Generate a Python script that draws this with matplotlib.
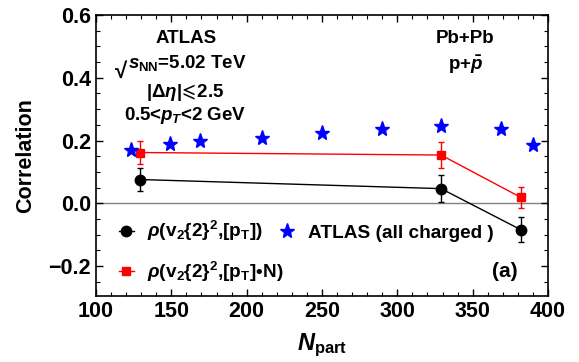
import matplotlib
matplotlib.use("Agg")
import matplotlib.pyplot as plt
import numpy as np
from matplotlib.ticker import MultipleLocator
from matplotlib.lines import Line2D

# ATLAS (all charged)
atlas_x = [123, 149, 169, 210, 250, 290, 329, 369, 390]
atlas_y = [0.171, 0.188, 0.198, 0.208, 0.225, 0.237, 0.248, 0.237, 0.187]

# rho(v2{2}^2,[pT])
rho_x = [129, 329, 382]
rho_y = [0.076, 0.047, -0.084]
rho_err = [0.037, 0.042, 0.040]

# rho(v2{2}^2,[pT]*N)
rhoN_x = [129, 329, 382]
rhoN_y = [0.162, 0.154, 0.019]
rhoN_err = [0.038, 0.040, 0.034]

plt.rcParams['font.family'] = ['Liberation Sans', 'DejaVu Sans']
plt.rcParams['font.weight'] = 'bold'
plt.rcParams['mathtext.fontset'] = 'custom'
plt.rcParams['mathtext.rm'] = 'Liberation Sans:bold'
plt.rcParams['mathtext.it'] = 'Liberation Sans:bold:italic'
plt.rcParams['mathtext.bf'] = 'Liberation Sans:bold'
plt.rcParams['mathtext.fallback'] = 'stixsans'

fig = plt.figure(figsize=(5.79, 3.62), dpi=100)
ax = fig.add_axes([0.1658, 0.1823, 0.7807, 0.7763])

ax.axhline(0, color='gray', lw=1, zorder=1)

ax.errorbar(rho_x, rho_y, yerr=rho_err, fmt='-o', color='black', ms=7.5, lw=1,
            capsize=2, elinewidth=1, zorder=3)
ax.errorbar(rhoN_x, rhoN_y, yerr=rhoN_err, fmt='-s', color='red', ms=5.5, lw=1,
            capsize=2, elinewidth=1, zorder=3)
ax.plot(atlas_x, atlas_y, '*', color='blue', ms=11, ls='none', zorder=4)

ax.set_xlim(100, 400)
ax.set_ylim(-0.295, 0.6)
ax.xaxis.set_major_locator(MultipleLocator(50))
ax.xaxis.set_minor_locator(MultipleLocator(10))
ax.yaxis.set_major_locator(MultipleLocator(0.2))
ax.yaxis.set_minor_locator(MultipleLocator(0.05))
ax.tick_params(which='both', direction='in', top=True, right=True, labelsize=15.5)
ax.tick_params(which='major', length=5, width=1)
ax.tick_params(which='minor', length=3, width=0.8)
ax.set_yticks([-0.2, 0.0, 0.2, 0.4, 0.6])
ax.set_yticklabels(["\u22120.2", "0.0", "0.2", "0.4", "0.6"])
for s in ax.spines.values():
    s.set_linewidth(1.2)

ax.set_ylabel("Correlation", fontsize=15.5, fontweight='bold', labelpad=9)
ax.set_xlabel(r"$N_{\rm part}$", fontsize=17, labelpad=7)

fs = 13.5
ax.text(160, 0.524, "ATLAS", ha='center', va='center', fontsize=fs)
ax.text(121, 0.446, r"$s_{\rm NN}$=5.02 TeV", ha='left', va='center', fontsize=fs)
ax.text(121, 0.418, "\u221a", ha='right', va='center', fontsize=16)
ax.text(159, 0.352, r"|Δ$\eta$|$\!\leqslant\!$2.5", ha='center', va='center', fontsize=fs)
ax.text(159, 0.28, r"0.5<$p_T$<2 GeV", ha='center', va='center', fontsize=fs)
ax.text(345, 0.524, "Pb+Pb", ha='center', va='center', fontsize=fs)
ax.text(345, 0.44, r"p+$\bar{p}$", ha='center', va='center', fontsize=fs)
ax.text(371, -0.216, "(a)", ha='center', va='center', fontsize=15)

# legend handles without the vertical error bars, as in the original
k1 = Line2D([], [], color='black', marker='o', ms=7.5, lw=1)
k2 = Line2D([], [], color='red', marker='s', ms=5.5, lw=1)
k3 = Line2D([], [], color='blue', marker='*', ms=11, ls='none')

lfs = 13.7
leg1 = ax.legend([k1, k2],
                 [r"$\rho$(v$_2${2}$^2$,[p$_{\rm T}$])",
                  r"$\rho$(v$_2${2}$^2$,[p$_{\rm T}$]•N)"],
                 loc='center left', bbox_to_anchor=(0.033, 0.159), frameon=False,
                 fontsize=lfs, handlelength=0.8, handletextpad=0.7,
                 labelspacing=0.85, borderaxespad=0)
ax.add_artist(leg1)
ax.legend([k3], ["ATLAS (all charged )"], loc='center left',
          bbox_to_anchor=(0.389, 0.223), frameon=False, fontsize=lfs,
          handlelength=0.8, handletextpad=0.7, borderaxespad=0)

fig.savefig("out.png", dpi=100)
